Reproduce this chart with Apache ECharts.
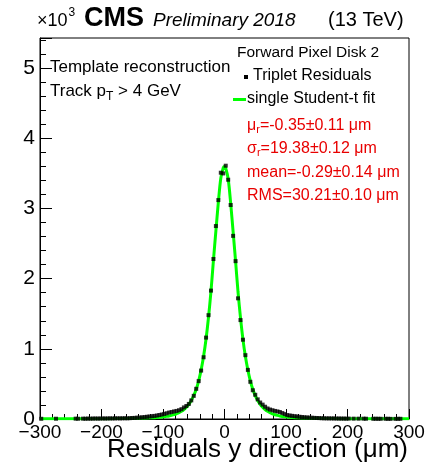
<!DOCTYPE html>
<html>
<head>
<meta charset="utf-8">
<script src="https://cdn.jsdelivr.net/npm/echarts@6/dist/echarts.min.js"></script>
<style>
  html, body { margin: 0; padding: 0; background: #fff; }
  #chart { width: 428px; height: 466px; }
</style>
</head>
<body>
<div id="chart"></div>
<script>
// Bin centres of the residual histogram (4 um bins from -300 to 300 um)
const binCenters = [
  -298,-294,-290,-286,-282,-278,-274,-270,-266,-262,-258,-254,-250,-246,-242,-238,-234,-230,-226,-222,
  -218,-214,-210,-206,-202,-198,-194,-190,-186,-182,-178,-174,-170,-166,-162,-158,-154,-150,-146,-142,
  -138,-134,-130,-126,-122,-118,-114,-110,-106,-102,-98,-94,-90,-86,-82,-78,-74,-70,-66,-62,
  -58,-54,-50,-46,-42,-38,-34,-30,-26,-22,-18,-14,-10,-6,-2,2,6,10,14,18,
  22,26,30,34,38,42,46,50,54,58,62,66,70,74,78,82,86,90,94,98,
  102,106,110,114,118,122,126,130,134,138,142,146,150,154,158,162,166,170,174,178,
  182,186,190,194,198,202,206,210,214,218,222,226,230,234,238,242,246,250,254,258,
  262,266,270,274,278,282,286,290,294,298
];

// Triplet residual counts per bin (null = empty bin, not drawn)
const tripletCounts = [
  3,null,null,null,null,null,4,null,null,null,null,null,null,null,5,4,null,5,4,6,
  5,6,7,6,7,8,7,8,9,8,9,10,9,10,11,10,12,14,16,19,
  21,24,28,32,36,40,44,50,57,64,72,82,92,100,108,115,125,140,165,185,
  215,265,330,430,540,690,880,1160,1480,1830,2280,2750,3120,3510,3500,3610,3410,3050,2610,2250,
  1720,1410,1130,910,700,530,410,345,280,235,205,175,150,135,125,115,108,100,85,70,
  56,50,45,40,36,32,28,25,22,20,18,16,14,13,11,10,9,9,8,8,
  7,7,6,6,5,6,null,5,null,5,null,5,4,null,null,3,4,3,3,null,
  3,3,2,null,2,3,3,null,null,null
];

// Single Student-t fit curve sampled along the residual axis
const fitX = [
  -300,-280,-260,-240,-220,-200,-180,-160,-140,-120,-110,-98,-94,-90,-86,-82,-78,-74,-70,-66,
  -62,-58,-54,-50,-46,-42,-38,-34,-30,-26,-22,-18,-14,-10,-6,-2,0,2,6,10,
  14,18,22,26,30,34,38,42,46,50,54,58,62,66,70,74,78,82,86,90,
  94,98,110,120,140,160,180,200,220,240,260,280,300
];
const fitY = [
  2,2,3,3,4,4,6,8,11,17,22,33,38,44,52,62,75,90,110,135,
  168,210,265,335,425,545,700,895,1140,1450,1820,2260,2680,3090,3430,3580,3600,3575,3420,3080,
  2670,2250,1810,1445,1135,890,698,543,423,333,264,209,167,134,109,89,74,61,51,43,
  37,32,22,17,11,8,6,4,4,3,3,2,2
];

// Axis tick labels
const xTickLabels = ['\u2212300', '\u2212200', '\u2212100', '0', '100', '200', '300'];
const yTickLabels = ['0', '1', '2', '3', '4', '5'];

const pointData = binCenters.map((x, i) => [x, tripletCounts[i]]);
const fitData = fitX.map((x, i) => [x, fitY[i]]);

const FONT = '"Liberation Sans", Arial, Helvetica, sans-serif';
const RED = '#e80000';

const chart = echarts.init(document.getElementById('chart'), null, { renderer: 'canvas' });

chart.setOption({
  backgroundColor: '#ffffff',
  animation: false,
  grid: {
    left: 40, right: 19, top: 38, bottom: 47,
    show: true, borderColor: '#000', borderWidth: 1, backgroundColor: 'transparent'
  },
  xAxis: {
    type: 'value', min: -300, max: 300, interval: 100,
    axisLine: { show: true, onZero: false, lineStyle: { color: '#000', width: 1 } },
    axisTick: { show: true, inside: true, length: 10, lineStyle: { color: '#000' } },
    minorTick: { show: true, splitNumber: 5, length: 5, lineStyle: { color: '#000' } },
    splitLine: { show: false },
    axisLabel: {
      margin: 4, fontSize: 19, color: '#000', fontFamily: FONT,
      formatter: v => xTickLabels[Math.round((v + 300) / 100)]
    }
  },
  yAxis: {
    type: 'value', min: 0, max: 5430, interval: 1000,
    axisLine: { show: true, onZero: false, lineStyle: { color: '#000', width: 1 } },
    axisTick: { show: true, inside: true, length: 12, lineStyle: { color: '#000' } },
    minorTick: { show: true, splitNumber: 5, length: 6, lineStyle: { color: '#000' } },
    splitLine: { show: false },
    axisLabel: {
      margin: 5, fontSize: 21, color: '#000', fontFamily: FONT,
      showMaxLabel: false,
      formatter: v => (v % 1000 === 0 ? yTickLabels[v / 1000] : '')
    }
  },
  series: [
    {
      name: 'single Student-t fit',
      type: 'line',
      data: fitData,
      smooth: 0.3,
      showSymbol: false,
      lineStyle: { color: '#00ff00', width: 3 },
      z: 2
    },
    {
      name: 'Triplet Residuals',
      type: 'scatter',
      data: pointData,
      symbol: 'rect',
      symbolSize: 4,
      itemStyle: { color: '#000' },
      z: 3
    }
  ],
  graphic: [
    // header
    {
      type: 'text', left: 37, top: 7,
      style: {
        text: '{x|\u00d710}{p|3}',
        rich: {
          x: { fontSize: 18, fontFamily: FONT, fill: '#000', padding: [7, 0, 0, 0] },
          p: { fontSize: 12, fontFamily: FONT, fill: '#000', padding: [0, 0, 9, 1] }
        }
      }
    },
    { type: 'text', left: 84, top: 5, style: { text: 'CMS', fontSize: 27, fontWeight: 'bold', fontFamily: FONT, fill: '#000' } },
    { type: 'text', left: 153, top: 11, style: { text: 'Preliminary 2018', fontSize: 19, fontStyle: 'italic', fontFamily: FONT, fill: '#000' } },
    { type: 'text', left: 328, top: 10, style: { text: '(13 TeV)', fontSize: 20, fontFamily: FONT, fill: '#000' } },
    // left annotation
    { type: 'text', left: 50, top: 59, style: { text: 'Template reconstruction', fontSize: 17, fontFamily: FONT, fill: '#000' } },
    {
      type: 'text', left: 50, top: 83,
      style: {
        text: '{n|Track p}{s|T}{n| > 4 GeV}',
        fontFamily: FONT, fill: '#000',
        rich: {
          n: { fontSize: 17, fontFamily: FONT, fill: '#000' },
          s: { fontSize: 12, fontFamily: FONT, fill: '#000', padding: [10, 0, 0, 0] }
        }
      }
    },
    // legend
    { type: 'text', left: 237, top: 45, style: { text: 'Forward Pixel Disk 2', fontSize: 15.5, fontFamily: FONT, fill: '#000' } },
    { type: 'rect', shape: { x: 244, y: 75, width: 4, height: 4 }, style: { fill: '#000' } },
    { type: 'text', left: 253, top: 68, style: { text: 'Triplet Residuals', fontSize: 16, fontFamily: FONT, fill: '#000' } },
    { type: 'line', shape: { x1: 233, y1: 99.5, x2: 246, y2: 99.5 }, style: { stroke: '#00ff00', lineWidth: 3 } },
    { type: 'text', left: 247, top: 91, style: { text: 'single Student-t fit', fontSize: 16, fontFamily: FONT, fill: '#000' } },
    // fit results
    {
      type: 'text', left: 247, top: 118,
      style: {
        text: '{n|\u03bc}{s|r}{n|=-0.35\u00b10.11 \u03bcm}', fill: RED,
        rich: { n: { fontSize: 16, fontFamily: FONT, fill: RED }, s: { fontSize: 11, fontFamily: FONT, fill: RED, padding: [8, 0, 0, 0] } }
      }
    },
    {
      type: 'text', left: 247, top: 141,
      style: {
        text: '{n|\u03c3}{s|r}{n|=19.38\u00b10.12 \u03bcm}', fill: RED,
        rich: { n: { fontSize: 16, fontFamily: FONT, fill: RED }, s: { fontSize: 11, fontFamily: FONT, fill: RED, padding: [8, 0, 0, 0] } }
      }
    },
    { type: 'text', left: 247, top: 165, style: { text: 'mean=-0.29\u00b10.14 \u03bcm', fontSize: 16, fontFamily: FONT, fill: RED } },
    { type: 'text', left: 247, top: 188, style: { text: 'RMS=30.21\u00b10.10 \u03bcm', fontSize: 16, fontFamily: FONT, fill: RED } },
    // x-axis title
    { type: 'text', right: 20, top: 437, style: { text: 'Residuals y direction (\u03bcm)', fontSize: 26, fontFamily: FONT, fill: '#000' } }
  ]
});
</script>
</body>
</html>
